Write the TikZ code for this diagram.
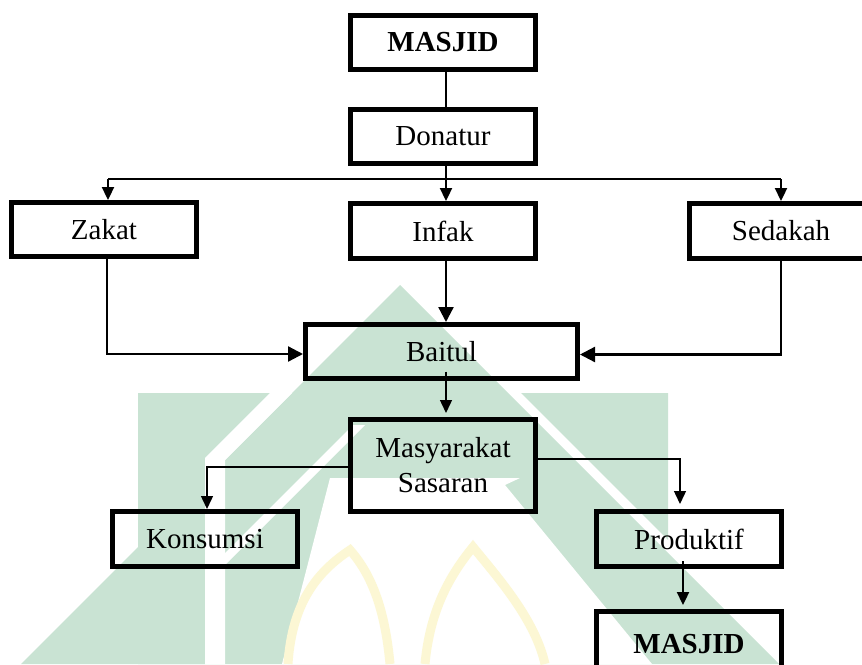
\documentclass[tikz,border=0pt]{standalone}
\usepackage{fontspec}
\setmainfont{Liberation Serif}
\usetikzlibrary{arrows.meta}
\definecolor{wmgreen}{RGB}{201,227,211}
\definecolor{wmyellow}{RGB}{252,247,212}
\begin{document}
\begin{tikzpicture}[x=1pt,y=-1pt,
  box/.style={draw=black,line width=5pt,minimum width=185pt,minimum height=54pt,inner sep=0pt,
    font=\fontsize{29}{35}\selectfont,align=center},
  conn/.style={line width=2.3pt},
  thinconn/.style={line width=1.4pt},
  tipS/.style={-{Triangle[length=13pt,width=12pt]}},
  tipL/.style={-{Triangle[length=15pt,width=15pt]}},
]
\useasboundingbox (0,0) rectangle (862,664);
% watermark
\fill[wmgreen] (400,285) -- (779,664) -- (21,664) -- cycle;
\fill[wmgreen] (138,393) -- (270,393) -- (205,458) -- (205,664) -- (138,664) -- cycle;
\fill[wmgreen] (521,393) -- (668,393) -- (668,540) -- cycle;
\fill[white] (270,393) -- (292,393) -- (225,460) -- (225,664) -- (205,664) -- (205,458) -- cycle;
\fill[white] (225,553) -- (353,425) -- (365,425) -- (225,565) -- cycle;
\fill[white] (282,664) -- (305,575) -- (330,478) -- (520,478) -- (505,485) -- (652,664) -- cycle;
\draw[wmyellow,line width=9pt] (288,664) .. controls (292,600) and (320,570) .. (350,550) .. controls (372,575) and (385,610) .. (390,664);
\draw[wmyellow,line width=9pt] (425,664) .. controls (430,610) and (450,575) .. (473,547) .. controls (500,580) and (535,620) .. (545,664);
% boxes
\node[box] (m1) at (443,42.5) {\bfseries MASJID};
\node[box] (don) at (443,136.5) {Donatur};
\node[box] (zak) at (104,229.5) {Zakat};
\node[box,minimum height=55pt] (inf) at (443,231) {Infak};
\node[box,minimum width=183pt,minimum height=55pt] (sed) at (781,231) {Sedakah};
\node[box,minimum width=272pt] (bai) at (441.5,351.5) {Baitul};
\node[box,minimum height=92pt] (mas) at (443,465.5) {Masyarakat\\Sasaran};
\node[box,minimum height=55pt] (kon) at (205,539) {Konsumsi};
\node[box,minimum height=55pt] (pro) at (689,539) {Produktif};
\node[box,minimum height=65pt] (m2) at (689,644) {\bfseries MASJID};
% connectors
\coordinate (busL) at (108,179);
\coordinate (busR) at (781,179);
\draw[conn] ([xshift=3pt]m1.south) -- ([xshift=3pt]don.north);
\draw[conn] (busL) -- (busR);
\draw[conn,tipS] (busL) -- (busL |- zak.north);
\draw[conn,tipS] ([xshift=3pt]don.south) -- ([xshift=3pt]inf.north);
\draw[conn,tipS] (busR) -- (sed.north);
\draw[conn,tipL] ([xshift=3pt]zak.south) |- ([yshift=-2.5pt]bai.west);
\draw[conn,tipL] ([xshift=3pt]inf.south) -- ([xshift=4.5pt]bai.north);
\draw[conn,tipL] (sed.south) |- ([yshift=-3pt]bai.east);
\draw[thinconn,tipS,shorten >=4pt] ([xshift=4.5pt,yshift=-20pt]bai.center) -- ([xshift=3pt]mas.north);
\draw[thinconn,tipS] ([yshift=-1.5pt]mas.west) -| ([xshift=2pt]kon.north);
\draw[thinconn,tipS,shorten >=5pt] ([yshift=6.5pt]mas.east) -| ([xshift=-9pt]pro.north);
\draw[conn,tipS,shorten >=4pt] ([xshift=-6pt,yshift=-22pt]pro.center) -- ([xshift=-6pt]m2.north);
\end{tikzpicture}
\end{document}
